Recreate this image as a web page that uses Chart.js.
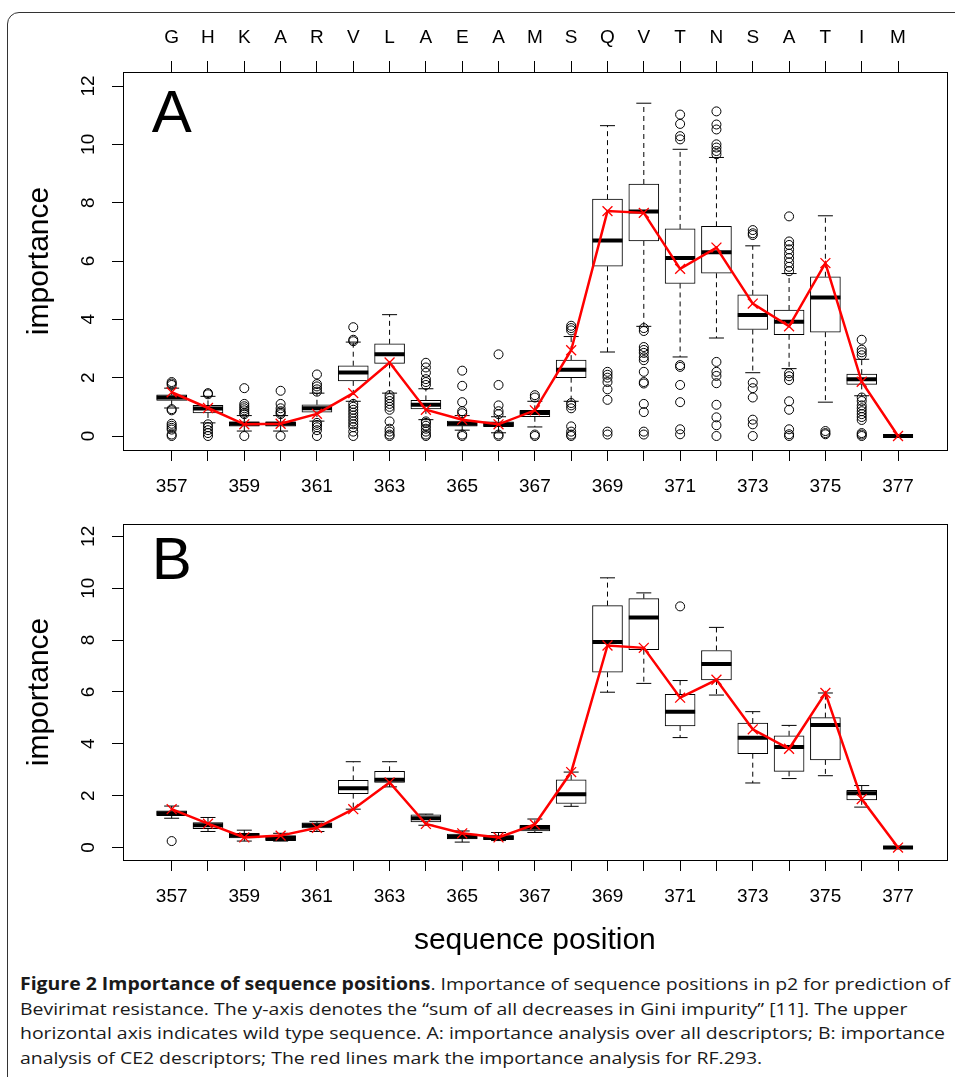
<!DOCTYPE html>
<html>
<head>
<meta charset="utf-8">
<title>Importance of sequence positions</title>
<script src="https://cdn.jsdelivr.net/npm/chart.js@4.4.1/dist/chart.umd.min.js"></script>
<style>
body { margin: 0; background: #fff; width: 955px; height: 1077px; overflow: hidden; position: relative; }
#frame { position: absolute; left: 7px; top: 12px; width: 1100px; height: 1200px; border: 1.5px solid #333; border-radius: 12px; }
#cA { position: absolute; left: 0; top: 0; }
#cB { position: absolute; left: 0; top: 500px; }
#caption { position: absolute; left: 20px; top: 972px; font-family: 'Open Sans', sans-serif; font-size: 17px; line-height: 24.5px; color: #1a1a1a; white-space: nowrap; transform-origin: 0 0; }
</style>
</head>
<body>
<div id="frame"></div>
<canvas id="cA" width="955" height="500"></canvas>
<canvas id="cB" width="955" height="460"></canvas>
<div id="caption">
<span id="cap1"><b>Figure 2 Importance of sequence positions</b>. Importance of sequence positions in p2 for prediction of</span><br>
<span>Bevirimat resistance. The y-axis denotes the “sum of all decreases in Gini impurity” [11]. The upper</span><br>
<span>horizontal axis indicates wild type sequence. A: importance analysis over all descriptors; B: importance</span><br>
<span>analysis of CE2 descriptors; The red lines mark the importance analysis for RF.293.</span>
</div>
<script>
// posições e sequência (eixo de cima)
const positions = [357, 358, 359, 360, 361, 362, 363, 364, 365, 366, 367, 368, 369, 370, 371, 372, 373, 374, 375, 376, 377]
const topLetters = ['G', 'H', 'K', 'A', 'R', 'V', 'L', 'A', 'E', 'A', 'M', 'S', 'Q', 'V', 'T', 'N', 'S', 'A', 'T', 'I', 'M']
const yTicks = [0, 2, 4, 6, 8, 10, 12]

// Painel A - todos os descritores
const aLow  = [0.96, 0.45, 0.17, 0.17, 0.51, 1.19, 1.47, 0.56, 0.20, 0.11, 0.31, 1.19, 2.88, 3.76, 2.71, 3.36, 2.17, 2.31, 1.16, 1.38, 0]
const aQ1   = [1.22, 0.79, 0.34, 0.34, 0.82, 1.89, 2.49, 0.93, 0.34, 0.32, 0.66, 2.00, 5.82, 6.69, 5.23, 5.58, 3.65, 3.47, 3.56, 1.77, 0]
const aMed  = [1.32, 0.94, 0.42, 0.42, 0.95, 2.18, 2.80, 1.07, 0.42, 0.40, 0.79, 2.27, 6.70, 7.70, 6.10, 6.30, 4.15, 3.92, 4.75, 1.95, 0]
const aQ3   = [1.41, 1.05, 0.49, 0.49, 1.07, 2.41, 3.16, 1.22, 0.51, 0.49, 0.88, 2.60, 8.12, 8.64, 7.10, 7.19, 4.84, 4.32, 5.46, 2.12, 0]
const aHigh = [1.64, 1.36, 0.70, 0.70, 1.47, 3.22, 4.16, 1.62, 0.70, 0.66, 1.19, 3.41, 10.64, 11.41, 9.83, 9.55, 6.52, 5.57, 7.55, 2.63, 0]
const aOutliers = [
    [1.85, 1.80, 1.75, 0.92, 0.88, 0.42, 0.35, 0.28, 0.22, 0.05, 0],
    [1.47, 1.43, 0.40, 0.30, 0.20, 0.10, 0],
    [1.64, 1.10, 1.02, 0.95, 0.88, 0.80, 0.75, 0],
    [1.55, 1.10, 0.95, 0.85, 0.80, 0.75, 0],
    [2.11, 1.78, 1.70, 1.60, 1.52, 0.45, 0.38, 0.30, 0.20, 0],
    [3.73, 3.30, 3.25, 1.10, 1.00, 0.90, 0.80, 0.70, 0.60, 0.50, 0.40, 0.30, 0.15, 0],
    [1.40, 1.30, 1.20, 1.10, 1.00, 0.90, 0.50, 0.25, 0.15, 0.05, 0],
    [2.51, 2.35, 2.17, 1.95, 1.85, 1.75, 0.50, 0.45, 0.35, 0.25, 0.15, 0.05, 0],
    [2.24, 1.72, 1.16, 0.85, 0.78, 0.05, 0],
    [2.80, 1.75, 1.05, 0.85, 0.75, 0.05, 0],
    [1.40, 1.32, 0.05, 0],
    [3.78, 3.70, 3.62, 1.13, 1.05, 0.95, 0.33, 0.15, 0.05, 0],
    [2.20, 2.10, 2.00, 1.85, 1.60, 1.24, 0.15, 0.05],
    [3.70, 3.60, 3.05, 2.95, 2.85, 2.70, 2.60, 2.20, 1.85, 1.80, 1.10, 0.82, 0.15, 0.05],
    [11.02, 10.70, 10.28, 10.17, 2.43, 2.37, 1.75, 1.16, 0.23, 0.06],
    [11.13, 10.68, 10.51, 10.00, 9.89, 9.77, 9.66, 2.54, 2.20, 2.06, 1.81, 1.07, 0.64, 0.37, 0],
    [7.06, 6.95, 6.89, 1.83, 1.64, 1.32, 0.56, 0.40, 0],
    [7.53, 6.67, 6.55, 6.40, 6.25, 6.10, 5.95, 5.80, 5.65, 2.15, 2.05, 1.92, 1.19, 0.90, 0.23, 0.06, 0],
    [0.17, 0.10, 0.06],
    [3.30, 2.96, 2.87, 2.77, 1.32, 1.20, 1.05, 0.95, 0.85, 0.75, 0.65, 0.55, 0.10, 0.05, 0],
    []
]
const aRF = [1.50, 0.96, 0.40, 0.42, 0.76, 1.47, 2.52, 0.90, 0.56, 0.40, 0.88, 2.94, 7.71, 7.65, 5.73, 6.46, 4.54, 3.76, 5.93, 1.86, 0]

// Painel B - descritores CE2
const bLow  = [1.13, 0.62, 0.25, 0.25, 0.62, 1.48, 2.34, 0.86, 0.21, 0.27, 0.58, 1.59, 5.99, 6.33, 4.24, 5.88, 2.49, 2.66, 2.77, 1.56, 0]
const bQ1   = [1.23, 0.73, 0.37, 0.27, 0.76, 2.08, 2.51, 0.99, 0.33, 0.30, 0.64, 1.70, 6.76, 7.63, 4.69, 6.46, 3.62, 2.94, 3.38, 1.84, 0]
const bMed  = [1.32, 0.86, 0.46, 0.37, 0.86, 2.29, 2.61, 1.13, 0.42, 0.39, 0.76, 2.06, 7.93, 8.87, 5.24, 7.08, 4.23, 3.88, 4.73, 2.09, 0]
const bQ3   = [1.42, 0.96, 0.55, 0.46, 0.95, 2.59, 2.94, 1.26, 0.52, 0.46, 0.86, 2.61, 9.33, 9.60, 5.91, 7.60, 4.80, 4.31, 5.01, 2.21, 0]
const bHigh = [1.60, 1.16, 0.67, 0.55, 1.01, 3.31, 3.31, 1.29, 0.64, 0.58, 1.10, 2.91, 10.40, 9.82, 6.44, 8.49, 5.24, 4.71, 5.96, 2.39, 0]
const bOutliers = [[0.25], [], [], [], [], [], [], [], [], [], [], [], [], [], [9.30], [], [], [], [], [], []]
const bRF = [1.48, 0.92, 0.39, 0.46, 0.76, 1.48, 2.51, 0.91, 0.55, 0.39, 0.89, 2.91, 7.79, 7.70, 5.78, 6.47, 4.56, 3.81, 5.96, 1.87, 0]

// limites dos eixos (como no R: 4% de folga)
const xMin = 355.66, xMax = 378.34
const yMin = -0.48, yMax = 12.48

Chart.defaults.font.family = "'Liberation Sans', Arial, sans-serif"
Chart.defaults.color = '#000'

// whiskers, medianas, moldura e letra do painel
function boxPlugin(st, letter) {
    return {
        id: 'box' + letter,
        beforeDatasetsDraw(chart) {
            const ctx = chart.ctx, x = chart.scales.x, y = chart.scales.y
            ctx.save()
            ctx.strokeStyle = '#000'
            ctx.lineWidth = 1
            positions.forEach((p, i) => {
                const px = x.getPixelForValue(p)
                ctx.setLineDash([5, 4])
                ctx.beginPath()
                ctx.moveTo(px, y.getPixelForValue(st.q3[i]))
                ctx.lineTo(px, y.getPixelForValue(st.high[i]))
                ctx.moveTo(px, y.getPixelForValue(st.q1[i]))
                ctx.lineTo(px, y.getPixelForValue(st.low[i]))
                ctx.stroke()
                ctx.setLineDash([])
                ctx.beginPath()
                const ph = y.getPixelForValue(st.high[i]), pl = y.getPixelForValue(st.low[i])
                ctx.moveTo(px - 7.5, ph); ctx.lineTo(px + 7.5, ph)
                ctx.moveTo(px - 7.5, pl); ctx.lineTo(px + 7.5, pl)
                ctx.stroke()
            })
            ctx.restore()
        },
        afterDatasetDraw(chart, args) {
            if (args.index !== 2) return
            const ctx = chart.ctx, x = chart.scales.x, y = chart.scales.y
            ctx.save()
            ctx.strokeStyle = '#000'
            ctx.lineWidth = 4
            ctx.beginPath()
            positions.forEach((p, i) => {
                const px = x.getPixelForValue(p), py = y.getPixelForValue(st.med[i])
                ctx.moveTo(px - 15, py)
                ctx.lineTo(px + 15, py)
            })
            ctx.stroke()
            ctx.restore()
        },
        afterDraw(chart) {
            const ctx = chart.ctx, a = chart.chartArea
            ctx.save()
            ctx.strokeStyle = '#000'
            ctx.lineWidth = 1
            ctx.strokeRect(Math.round(a.left) + 0.5, Math.round(a.top) + 0.5, Math.round(a.right - a.left), Math.round(a.bottom - a.top))
            ctx.fillStyle = '#000'
            ctx.font = "60px 'Liberation Sans', Arial, sans-serif"
            ctx.textAlign = 'center'
            ctx.textBaseline = 'middle'
            ctx.fillText(letter, chart.scales.x.getPixelForValue(357), chart.scales.y.getPixelForValue(11))
            ctx.restore()
        }
    }
}

function makePanel(id, st, letter, withTop, withTitle) {
    const tickGrid = { drawOnChartArea: false, drawTicks: true, tickLength: 11, color: '#000', lineWidth: 1, offset: false }
    const outliers = []
    st.out.forEach((vals, i) => vals.forEach(v => outliers.push({ x: positions[i], y: v })))

    const scales = {
        x: {
            type: 'linear', position: 'bottom', min: xMin, max: xMax, bounds: 'data', offset: false,
            afterBuildTicks: s => { s.ticks = positions.map(v => ({ value: v })) },
            afterFit: s => { s.height = withTitle ? 100 : 50 },
            grid: tickGrid,
            border: { display: false },
            ticks: { autoSkip: false, maxRotation: 0, padding: 14, font: { size: 19 },
                callback: v => (v % 2 === 1 ? String(v) : '') },
            title: { display: withTitle, text: 'sequence position', font: { size: 30 }, padding: { top: 0, bottom: 1 } }
        },
        y: {
            type: 'linear', position: 'left', min: yMin, max: yMax, bounds: 'data',
            afterBuildTicks: s => { s.ticks = yTicks.map(v => ({ value: v })) },
            afterFit: s => { s.width = 123 },
            grid: tickGrid,
            border: { display: false },
            ticks: { minRotation: 90, maxRotation: 90, crossAlign: 'center', padding: 12.5, font: { size: 19 },
                callback: v => String(v) },
            title: { display: true, text: 'importance', font: { size: 30 }, padding: { top: 22, bottom: 0 } }
        }
    }
    if (withTop) {
        scales.x2 = {
            type: 'linear', position: 'top', min: xMin, max: xMax, bounds: 'data', offset: false,
            afterBuildTicks: s => { s.ticks = positions.map(v => ({ value: v })) },
            afterFit: s => { s.height = 72 },
            grid: tickGrid,
            border: { display: false },
            ticks: { autoSkip: false, maxRotation: 0, padding: 12, font: { size: 19 },
                callback: (v, i) => topLetters[i] }
        }
    }

    return new Chart(document.getElementById(id), {
        type: 'bar',
        data: {
            datasets: [
                {   // linha vermelha RF.293
                    type: 'line',
                    data: positions.map((p, i) => ({ x: p, y: st.rf[i] })),
                    borderColor: '#ff0000',
                    borderWidth: 2.5,
                    tension: 0,
                    pointStyle: 'crossRot',
                    pointRadius: 7,
                    pointBorderColor: '#ff0000',
                    pointBackgroundColor: '#ff0000',
                    pointBorderWidth: 1.3
                },
                {   // outliers
                    type: 'line',
                    data: outliers,
                    showLine: false,
                    pointStyle: 'circle',
                    pointRadius: 4.5,
                    pointBorderColor: '#000',
                    pointBorderWidth: 1,
                    pointBackgroundColor: 'rgba(0,0,0,0)'
                },
                {   // caixas (Q1 - Q3)
                    type: 'bar',
                    data: positions.map((p, i) => ({ x: p, y: [st.q1[i], st.q3[i]] })),
                    backgroundColor: '#fff',
                    borderColor: '#000',
                    borderWidth: 1,
                    borderSkipped: false,
                    barThickness: 30
                }
            ]
        },
        options: {
            responsive: false,
            animation: false,
            layout: { padding: { left: 0, right: 6, top: withTop ? 0 : 10, bottom: 0 } },
            plugins: { legend: { display: false }, tooltip: { enabled: false } },
            scales: scales
        },
        plugins: [boxPlugin(st, letter)]
    })
}

makePanel('cA', { low: aLow, q1: aQ1, med: aMed, q3: aQ3, high: aHigh, out: aOutliers, rf: aRF }, 'A', true, false)
makePanel('cB', { low: bLow, q1: bQ1, med: bMed, q3: bQ3, high: bHigh, out: bOutliers, rf: bRF }, 'B', false, true)

// legenda da figura: ajusta a largura da primeira linha
document.fonts.ready.then(() => {
    const w = document.getElementById('cap1').getBoundingClientRect().width
    document.getElementById('caption').style.transform = 'scaleX(' + (930 / w) + ')'
})
</script>
</body>
</html>
